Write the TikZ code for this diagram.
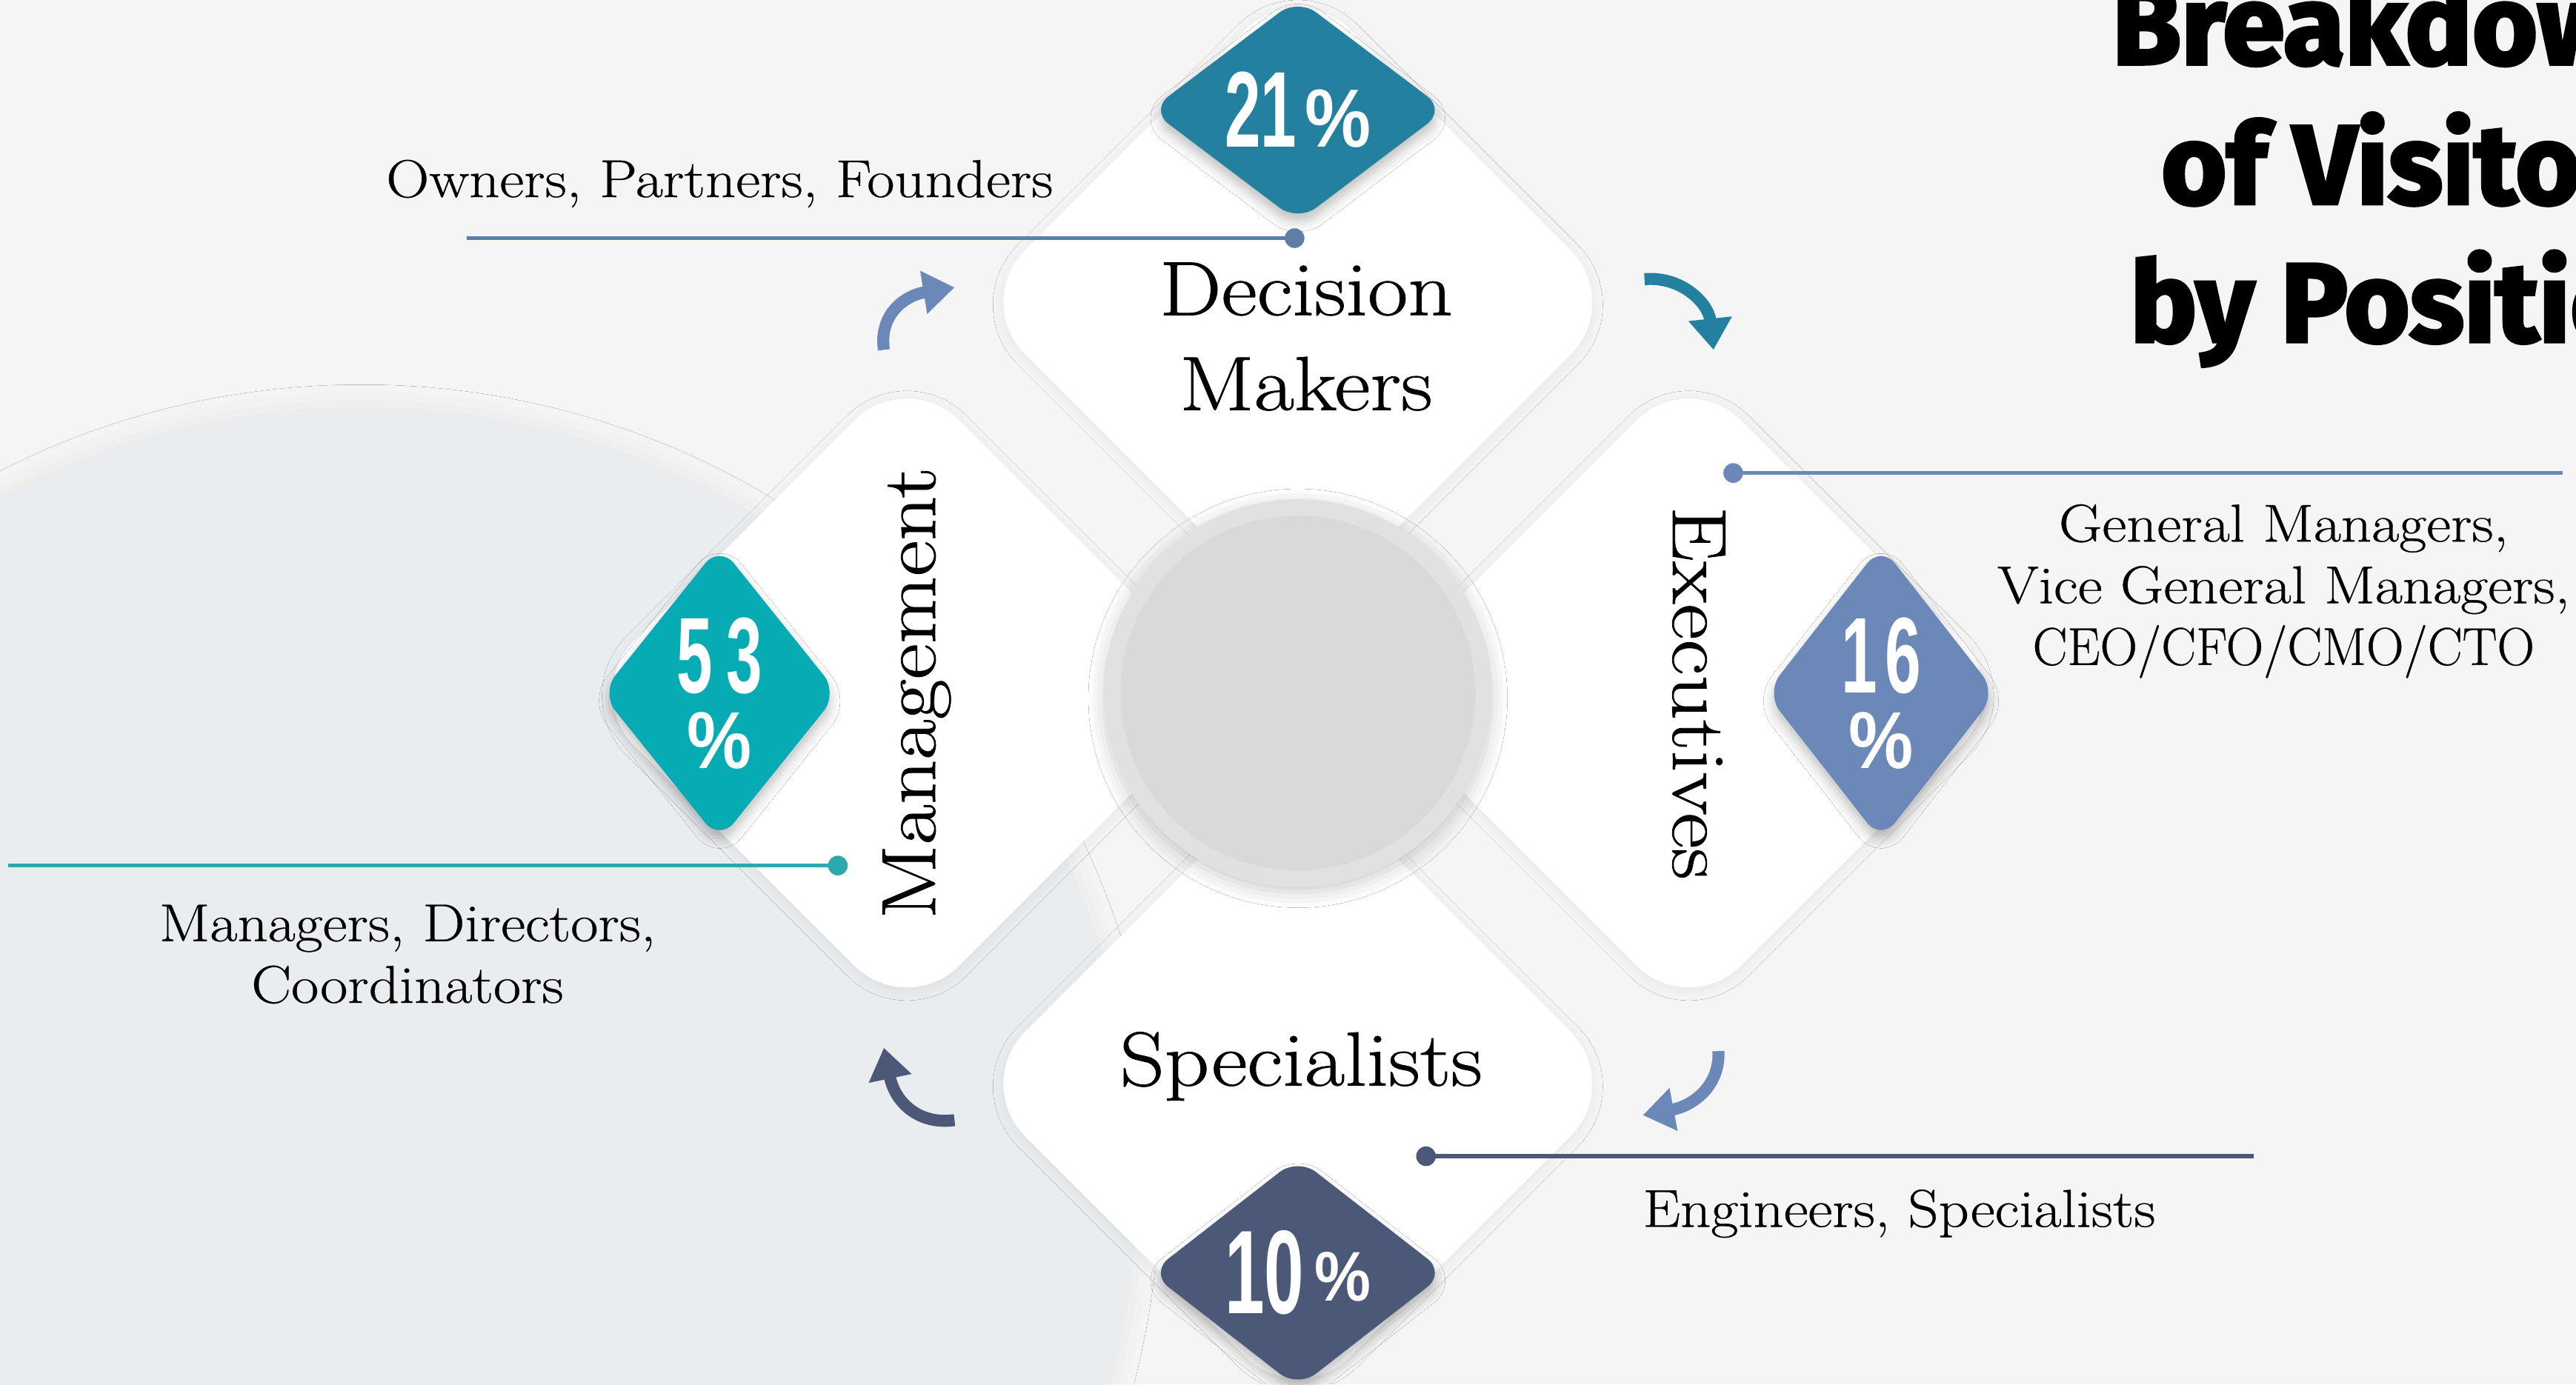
\documentclass[tikz,border=0pt]{standalone}
\usepackage{fontspec}
\usepackage{graphicx}
\usetikzlibrary{shapes.geometric,shadows.blur,arrows.meta}
\newfontfamily\titlefont{Fira Sans Bold}[FakeBold=3]
\newfontfamily\pctfont{Liberation Sans Bold}
\newfontfamily\labelfont{Latin Modern Roman}[FakeStretch=1.14, FakeBold=0.8]
\newfontfamily\descfont{Latin Modern Roman}[FakeStretch=1.12, FakeBold=0.5]
\newlength\dpx \setlength\dpx{0.2218mm}
\definecolor{pagebg}{HTML}{F5F5F5}
\definecolor{blobbg}{HTML}{EAEDF0}
\definecolor{hubrim}{HTML}{E1E1E1}
\definecolor{hubcore}{HTML}{D9D9D9}
\definecolor{tealblue}{HTML}{23819F}
\definecolor{aqua}{HTML}{06ABB4}
\definecolor{steel}{HTML}{6B88B8}
\definecolor{slate}{HTML}{4B5877}
\definecolor{dmline}{HTML}{5D7FA7}
\definecolor{mgline}{HTML}{2CA8AF}
\newcommand\bignum[2]{\scalebox{0.6}[1]{\pctfont\fontsize{#1}{#1}\selectfont #2}}
\newcommand\pctsign[1]{\scalebox{0.9}[1]{\pctfont\fontsize{#1}{#1}\selectfont\%}}
\tikzset{
  panel/.style={diamond, fill=white, inner sep=0pt, minimum width=396\dpx,
    minimum height=396\dpx, rounded corners=45\dpx,
    blur shadow={shadow xshift=0pt, shadow yshift=-1pt, shadow blur radius=4pt, shadow opacity=6}},
  badge/.style={diamond, fill=#1, inner sep=0pt, rounded corners=14\dpx, text=white,
    align=center, font=\fontsize{20}{29}\selectfont,
    blur shadow={shadow xshift=0pt, shadow yshift=-3pt, shadow blur radius=4pt, shadow opacity=25}},
  wide/.style={minimum width=180\dpx, minimum height=136\dpx},
  tall/.style={minimum width=140\dpx, minimum height=180\dpx},
  lbl/.style={font=\labelfont\fontsize{29.5}{36.5}\selectfont, align=center},
  desc/.style={font=\descfont\fontsize{20.5}{23.7}\selectfont, align=center},
  dot/.style={circle, fill=#1, inner sep=0pt, minimum size=12\dpx},
  lead/.style={draw=#1, line width=1.6pt},
  turn/.style={draw=#1, line width=4.6pt, -{Triangle[length=12pt, width=16pt]}},
  heading/.style={font=\titlefont\fontsize{43}{53}\selectfont, anchor=base west}
}
\begin{document}
\begin{tikzpicture}[x=0.2218mm,y=-0.2218mm]
\useasboundingbox (0,0) rectangle (1568,843);
\clip (0,0) rectangle (1568,843);
\fill[pagebg] (0,0) rectangle (1568,843);
\fill[blobbg, blur shadow={shadow xshift=0pt, shadow yshift=0pt, shadow blur radius=10pt, shadow opacity=7}]
  (220,720) circle[radius=470];

\node[panel] (dm) at (790,184) {};
\node[panel] (mg) at (552,422) {};
\node[panel] (ex) at (1028,422) {};
\node[panel] (sp) at (790,660) {};
\node[circle, fill=hubrim, minimum size=236\dpx,
  blur shadow={shadow xshift=0pt, shadow yshift=-2pt, shadow blur radius=6pt, shadow opacity=20}] (hub) at (790,422) {};
\node[circle, fill=hubcore, minimum size=216\dpx] (hubcore) at (hub) {};

\node[badge=tealblue, wide] (p21) at (790,67) {\bignum{41.4}{21}\hspace{3pt}\pctsign{31.7}};
\node[badge=aqua, tall] (p53) at (438,422) {\bignum{41.4}{5\kern9pt 3}\\\pctsign{31}};
\node[badge=steel, tall] (p16) at (1145,422) {\bignum{41.4}{1\kern5pt 6}\\\pctsign{31}};
\node[badge=slate, wide] (p10) at (790,775) {\bignum{45.7}{10}\hspace{4pt}\raisebox{5pt}{\pctsign{27}}};

\node[lbl] (dmlabel) at (795,205) {Decision\\Makers};
\node[lbl, rotate=90] (mglabel) at (558,422) {Management};
\node[lbl, rotate=-90] (exlabel) at (1034,422) {Executives};
\node[lbl, anchor=base] (splabel) at (792,661) {Specialists};

\node[desc, anchor=base] (dmtext) at (438,120) {Owners, Partners, Founders};
\node[desc] (extext) at (1390,360) {General Managers,\\Vice General Managers,\\\scalebox{0.87}[1]{CEO/CFO/CMO/CTO}};
\node[desc] (mgtext) at (248,581) {Managers, Directors,\\Coordinators};
\node[desc, anchor=base] (sptext) at (1156,747) {Engineers, Specialists};

\node[dot=dmline] (dmdot) at (788,145) {};
\coordinate (dmend) at (284,145);
\draw[lead=dmline] (dmend) -- (dmdot.center);
\node[dot=steel] (exdot) at (1055,288) {};
\coordinate (exend) at (1560,288);
\draw[lead=steel] (exdot.center) -- (exend);
\node[dot=mgline] (mgdot) at (510,527) {};
\coordinate (mgend) at (5,527);
\draw[lead=mgline] (mgend) -- (mgdot.center);
\node[dot=slate] (spdot) at (868,704) {};
\coordinate (spend) at (1372,704);
\draw[lead=slate] (spdot.center) -- (spend);

\coordinate (mgdm0) at (538,213); \coordinate (mgdm1) at (581,175);
\draw[turn=steel] (mgdm0) .. controls (535,192) and (550,180) .. (mgdm1);
\coordinate (dmex0) at (1001,170); \coordinate (dmex1) at (1043,213);
\draw[turn=tealblue] (dmex0) .. controls (1024,168) and (1040,185) .. (dmex1);
\coordinate (exsp0) at (1046,640); \coordinate (exsp1) at (1000,679);
\draw[turn=steel] (exsp0) .. controls (1047,660) and (1032,673) .. (exsp1);
\coordinate (spmg0) at (581,682); \coordinate (spmg1) at (538,638);
\draw[turn=slate] (spmg0) .. controls (560,685) and (545,672) .. (spmg1);

\node[heading] (title1) at (1280,39) {Breakdown};
\node[heading] (title2) at (1310,124) {of Visitors};
\node[heading] (title3) at (1291,208) {by Position};
\end{tikzpicture}
\end{document}
